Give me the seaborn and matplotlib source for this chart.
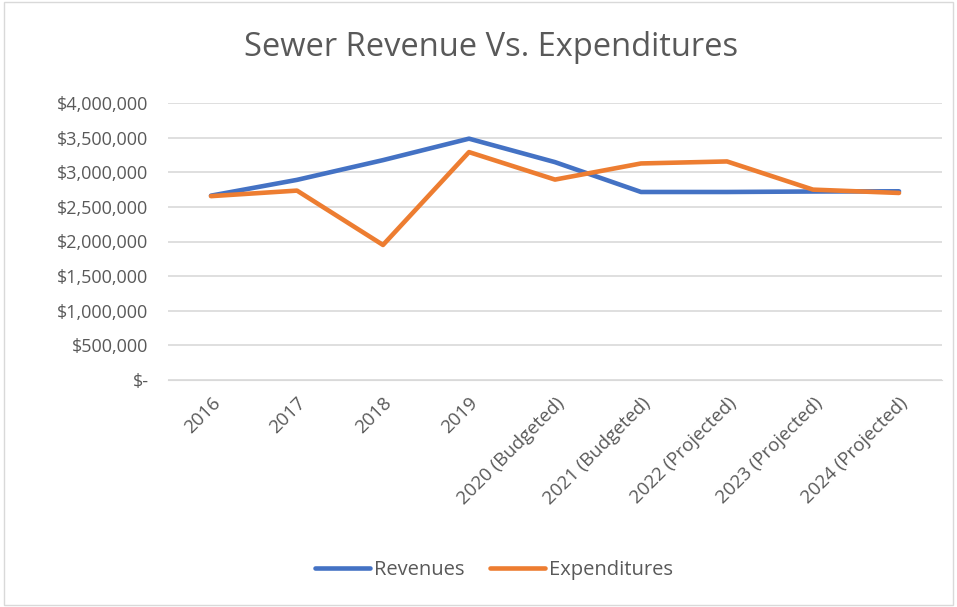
"""Sewer revenue vs. expenditures line chart."""

import matplotlib.pyplot as plt
import pandas as pd
import seaborn as sns
from matplotlib.ticker import FuncFormatter

YEARS = [
    "2016",
    "2017",
    "2018",
    "2019",
    "2020 (Budgeted)",
    "2021 (Budgeted)",
    "2022 (Projected)",
    "2023 (Projected)",
    "2024 (Projected)",
]
REVENUES = [2662000, 2890000, 3175000, 3485000, 3146000, 2715000, 2715000, 2722000, 2725000]
EXPENDITURES = [2655000, 2735000, 1950000, 3291000, 2894000, 3127000, 3156000, 2749000, 2701000]

SERIES = ["Revenues", "Expenditures"]
COLORS = ["#4472C4", "#ED7D31"]
TEXT = "#595959"


def money(v, _):
    if v == 0:
        return "$-"
    return f"${v:,.0f}"


def main():
    sns.set_style("white")
    plt.rcParams["font.family"] = ["Open Sans", "DejaVu Sans"]

    df = pd.DataFrame({
        "year": YEARS * 2,
        "pos": list(range(len(YEARS))) * 2,
        "value": REVENUES + EXPENDITURES,
        "series": [SERIES[0]] * len(YEARS) + [SERIES[1]] * len(YEARS),
    })

    fig = plt.figure(figsize=(9.57, 6.07), dpi=100)
    ax = fig.add_axes([168 / 957, 1 - 380 / 607, 774 / 957, 277 / 607])

    sns.lineplot(
        data=df, x="pos", y="value", hue="series", hue_order=SERIES,
        palette=COLORS, linewidth=3.3, ax=ax, legend=True,
    )

    ax.set_xlim(-0.5, len(YEARS) - 0.5)
    ax.set_ylim(0, 4000000)
    ax.set_yticks(range(0, 4000001, 500000))
    ax.yaxis.set_major_formatter(FuncFormatter(money))
    ax.set_xticks(range(len(YEARS)))
    ax.set_xticklabels(YEARS, rotation=45, ha="right", rotation_mode="anchor")
    ax.tick_params(axis="y", length=0, labelsize=13, colors=TEXT, pad=14)
    ax.tick_params(axis="x", length=0, labelsize=13.5, colors=TEXT, pad=10)
    ax.grid(axis="y", color="#D9D9D9", linewidth=1.2)
    ax.set_axisbelow(True)
    for side in ["top", "right", "left"]:
        ax.spines[side].set_visible(False)
    ax.spines["bottom"].set_color("#D9D9D9")
    ax.set_xlabel("")
    ax.set_ylabel("")

    fig.text(491 / 957, 1 - 47 / 607, "Sewer Revenue Vs. Expenditures",
             ha="center", va="center", fontsize=23.5, color=TEXT)

    handles, labels = ax.get_legend_handles_labels()
    ax.legend(handles, labels, loc="center",
              bbox_to_anchor=(494 / 957, 1 - 570 / 607),
              bbox_transform=fig.transFigure, ncol=2, frameon=False,
              fontsize=14.5, labelcolor=TEXT, handlelength=2.7,
              handletextpad=0.2, columnspacing=1.3)

    fig.patches.append(plt.Rectangle((0.004, 0.004), 0.992, 0.992, fill=False,
                                     edgecolor="#D9D9D9", linewidth=1,
                                     transform=fig.transFigure))

    fig.savefig("out.png", dpi=100)
    plt.close(fig)


if __name__ == "__main__":
    main()
